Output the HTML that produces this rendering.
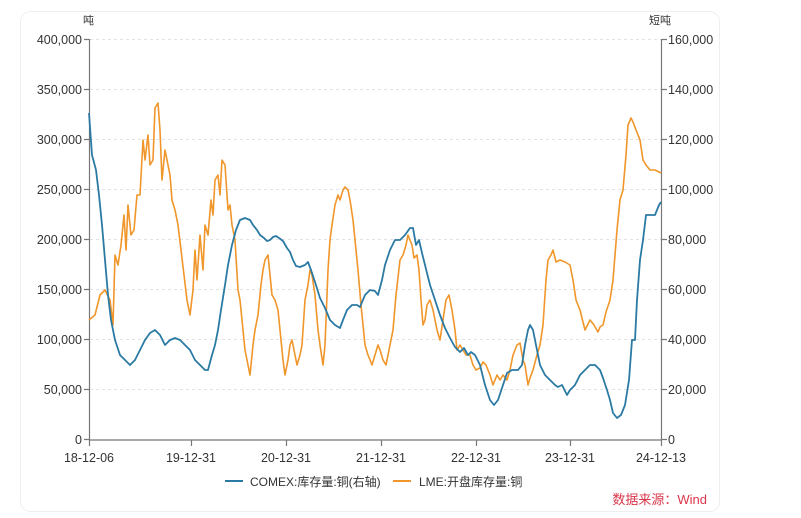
<!DOCTYPE html>
<html><head><meta charset="utf-8"><style>
body{margin:0;background:#fff;width:801px;height:518px;overflow:hidden;font-family:"Liberation Sans","Noto Sans CJK SC",sans-serif}
</style></head><body>
<svg width="801" height="518" xmlns="http://www.w3.org/2000/svg" style="position:absolute;left:0;top:0;font-family:'Liberation Sans','Noto Sans CJK SC',sans-serif">
<rect x="20.5" y="11.5" width="699" height="500" rx="10" fill="#fff" stroke="#eeeeee"/>
<g stroke="#e2e2e2" stroke-dasharray="3,3" stroke-width="1">
<line x1="90" x2="661" y1="39.5" y2="39.5"/><line x1="90" x2="661" y1="89.5" y2="89.5"/><line x1="90" x2="661" y1="139.5" y2="139.5"/><line x1="90" x2="661" y1="189.5" y2="189.5"/><line x1="90" x2="661" y1="239.5" y2="239.5"/><line x1="90" x2="661" y1="289.5" y2="289.5"/><line x1="90" x2="661" y1="339.5" y2="339.5"/><line x1="90" x2="661" y1="389.5" y2="389.5"/>
</g>
<g stroke="#777" stroke-width="1.2" fill="none">
<line x1="89.5" y1="39" x2="89.5" y2="440"/><line x1="661.5" y1="39" x2="661.5" y2="440"/><line x1="89" y1="440" x2="662" y2="440"/>
<path d="M84 39.5h5M84 89.5h5M84 139.5h5M84 189.5h5M84 239.5h5M84 289.5h5M84 339.5h5M84 389.5h5M84 439.5h5"/>
<path d="M662 39.5h5M662 89.5h5M662 139.5h5M662 189.5h5M662 239.5h5M662 289.5h5M662 339.5h5M662 389.5h5M662 439.5h5"/>
<path d="M89.5 440v6M191.5 440v6M286.5 440v6M381.5 440v6M476.5 440v6M570.5 440v6M661.5 440v6"/>
</g>
<g font-size="12.5" fill="#333" text-anchor="end">
<text x="82" y="44">400,000</text><text x="82" y="94">350,000</text><text x="82" y="144">300,000</text><text x="82" y="194">250,000</text><text x="82" y="244">200,000</text><text x="82" y="294">150,000</text><text x="82" y="344">100,000</text><text x="82" y="394">50,000</text><text x="82" y="444">0</text>
</g>
<g font-size="12.5" fill="#333">
<text x="668" y="44">160,000</text><text x="668" y="94">140,000</text><text x="668" y="144">120,000</text><text x="668" y="194">100,000</text><text x="668" y="244">80,000</text><text x="668" y="294">60,000</text><text x="668" y="344">40,000</text><text x="668" y="394">20,000</text><text x="668" y="444">0</text>
<text x="83" y="24" font-size="11">吨</text><text x="649" y="24" font-size="11">短吨</text>
</g>
<g font-size="12.5" fill="#333" text-anchor="middle">
<text x="89" y="462">18-12-06</text><text x="191" y="462">19-12-31</text><text x="286" y="462">20-12-31</text><text x="381" y="462">21-12-31</text><text x="476" y="462">22-12-31</text><text x="570" y="462">23-12-31</text><text x="661" y="462">24-12-13</text>
</g>
<polyline fill="none" stroke="#f0962a" stroke-width="1.6" stroke-linejoin="round" points="89,320 95,315 100,295 105,290 110,300 113,325 115,255 118,265 121,245 124,215 126,250 128,205 131,235 134,230 137,195 140,195 143,140 145,160 148,135 150,165 153,160 155,108 158,103 160,130 162,180 165,150 168,165 170,175 172,200 175,210 178,225 181,250 184,275 187,300 190,315 193,290 195,250 197,280 200,235 203,270 205,225 208,235 211,200 213,215 215,180 218,175 220,195 222,160 225,165 228,210 230,205 232,225 235,240 238,290 240,300 243,330 245,350 248,365 250,375 253,345 255,330 258,315 261,285 263,270 265,260 268,255 270,275 272,295 275,300 278,310 280,330 283,360 285,375 288,360 290,345 292,340 295,355 297,365 300,355 302,345 305,300 308,285 310,270 312,275 315,295 318,330 320,345 323,365 325,345 328,270 330,240 332,225 335,205 338,195 340,200 343,190 345,187 348,190 350,200 353,220 355,240 358,270 361,305 365,345 368,355 372,365 375,355 378,345 380,350 383,360 386,365 390,345 393,330 396,295 400,260 403,255 406,245 408,235 412,245 414,258 417,255 419,270 421,300 423,325 425,320 427,305 430,300 433,310 437,330 440,340 443,320 446,300 449,295 452,310 455,330 457,350 460,345 463,350 466,355 470,355 473,365 476,370 480,368 483,362 486,365 490,375 493,385 497,375 500,380 503,375 507,380 510,370 513,355 517,345 520,343 523,360 525,365 528,385 530,378 533,370 537,355 540,345 543,325 546,280 548,260 551,255 553,250 556,262 560,260 565,262 570,265 573,280 576,300 580,310 585,330 590,320 594,325 598,332 600,327 603,325 606,312 610,300 613,280 617,230 620,200 623,190 626,155 628,125 631,118 633,122 636,130 640,140 643,160 646,165 650,170 655,170 661,173"/>
<polyline fill="none" stroke="#2b7aa3" stroke-width="1.8" stroke-linejoin="round" points="89,113 92,155 96,170 99,195 102,225 105,260 108,295 111,320 115,340 120,355 125,360 130,365 135,360 140,350 145,340 150,333 155,330 160,335 165,345 170,340 175,338 180,340 185,345 190,350 195,360 200,365 205,370 208,370 212,355 215,345 218,330 221,310 225,285 228,265 232,245 236,230 240,220 245,218 250,220 253,225 257,230 260,235 264,238 267,241 270,240 273,237 276,236 279,238 283,241 287,248 290,252 293,260 296,266 300,267 305,265 308,262 311,270 315,282 320,298 325,308 330,320 335,325 340,328 343,320 347,310 352,305 357,305 360,307 365,295 370,290 375,291 378,295 382,280 385,265 390,250 395,240 400,240 405,235 410,228 413,228 416,245 419,240 422,253 425,265 430,285 435,300 440,315 445,328 450,338 455,347 460,352 464,348 468,355 471,352 475,355 480,365 485,385 490,400 494,405 498,400 503,385 507,373 512,370 518,370 522,365 525,345 528,330 530,325 533,330 536,345 540,365 545,375 550,380 555,385 558,387 562,385 567,395 570,390 575,385 580,375 585,370 590,365 595,365 600,370 603,378 607,390 610,400 613,413 617,418 621,415 625,405 629,380 632,340 635,340 637,300 640,260 643,240 646,215 650,215 655,215 659,205 661,202"/>
<line x1="225" y1="481" x2="243" y2="481" stroke="#2b7aa3" stroke-width="2"/>
<text x="250" y="486" font-size="12" fill="#333">COMEX:库存量:铜(右轴)</text>
<line x1="393" y1="481" x2="411" y2="481" stroke="#f0962a" stroke-width="2"/>
<text x="419" y="486" font-size="12" fill="#333">LME:开盘库存量:铜</text>
<text x="707" y="504" font-size="13" fill="#d9364a" text-anchor="end">数据来源：Wind</text>
</svg>
</body></html>
